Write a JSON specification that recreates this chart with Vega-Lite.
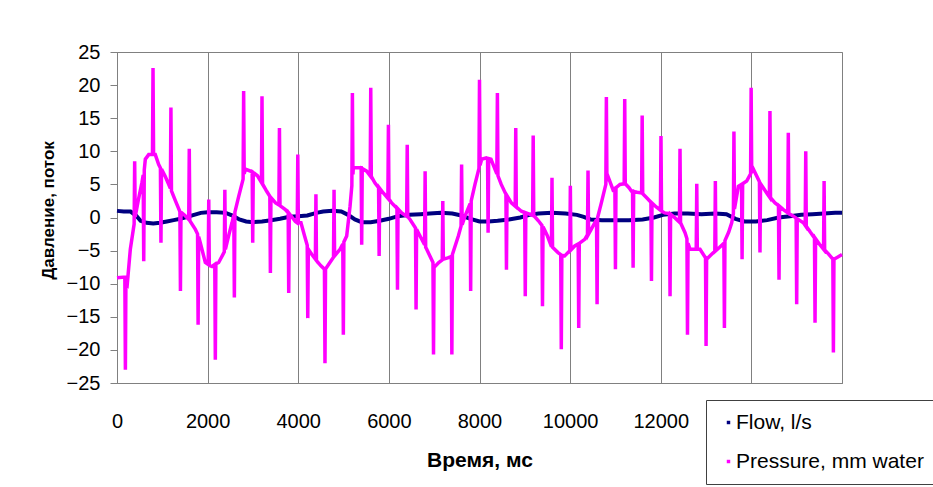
{
 "$schema": "https://vega.github.io/schema/vega-lite/v6.json",
 "width": 725,
 "height": 331,
 "autosize": {"type": "none"},
 "padding": {"left": 117, "top": 52, "right": 91, "bottom": 104},
 "background": "white",
 "config": {
  "view": {"stroke": "#808080", "strokeWidth": 1},
  "font": "Liberation Sans",
  "axis": {"labelFont": "Liberation Sans", "labelFontSize": 20, "labelColor": "black", "titleFont": "Liberation Sans", "titleFontWeight": "bold", "titleColor": "black", "domainColor": "#808080", "tickColor": "#808080", "gridColor": "#808080", "gridOpacity": 1}
 },
 "datasets": {
  "flow": [
   {"t":0,"v":1.0},{"t":150,"v":0.9},{"t":300,"v":0.9},{"t":420,"v":0.3},{"t":520,"v":-0.5},{"t":650,"v":-0.8},{"t":800,"v":-0.9},{"t":950,"v":-0.8},{"t":1100,"v":-0.6},{"t":1250,"v":-0.4},{"t":1400,"v":-0.2},{"t":1550,"v":0.1},{"t":1700,"v":0.4},{"t":1850,"v":0.7},{"t":2000,"v":0.8},{"t":2200,"v":0.8},{"t":2400,"v":0.7},{"t":2550,"v":0.3},{"t":2700,"v":-0.3},{"t":2850,"v":-0.6},{"t":3000,"v":-0.7},{"t":3200,"v":-0.6},{"t":3400,"v":-0.4},{"t":3600,"v":-0.2},{"t":3800,"v":0.1},{"t":4000,"v":0.2},{"t":4200,"v":0.3},{"t":4400,"v":0.7},{"t":4550,"v":0.9},{"t":4750,"v":1.0},{"t":4950,"v":0.9},{"t":5100,"v":0.4},{"t":5250,"v":-0.3},{"t":5400,"v":-0.7},{"t":5600,"v":-0.7},{"t":5800,"v":-0.5},{"t":6000,"v":-0.2},{"t":6200,"v":0.2},{"t":6450,"v":0.4},{"t":6700,"v":0.5},{"t":6900,"v":0.6},{"t":7150,"v":0.7},{"t":7400,"v":0.6},{"t":7600,"v":0.3},{"t":7800,"v":-0.2},{"t":8000,"v":-0.6},{"t":8200,"v":-0.6},{"t":8400,"v":-0.5},{"t":8650,"v":-0.3},{"t":8900,"v":0.0},{"t":9100,"v":0.4},{"t":9300,"v":0.6},{"t":9600,"v":0.7},{"t":9900,"v":0.6},{"t":10150,"v":0.4},{"t":10300,"v":0.1},{"t":10450,"v":-0.3},{"t":10700,"v":-0.4},{"t":11000,"v":-0.4},{"t":11300,"v":-0.4},{"t":11600,"v":-0.3},{"t":11850,"v":0.0},{"t":12050,"v":0.4},{"t":12300,"v":0.6},{"t":12600,"v":0.6},{"t":12900,"v":0.5},{"t":13200,"v":0.6},{"t":13450,"v":0.5},{"t":13650,"v":-0.2},{"t":13850,"v":-0.6},{"t":14100,"v":-0.6},{"t":14350,"v":-0.4},{"t":14600,"v":0.0},{"t":14850,"v":0.2},{"t":15100,"v":0.4},{"t":15350,"v":0.5},{"t":15600,"v":0.6},{"t":15850,"v":0.7},{"t":16000,"v":0.7}
  ],
  "pressure": [
   {"t":0,"v":-9.1},
   {"t":173,"v":-9.0},{"t":185,"v":-23},{"t":197,"v":-9.3},
   {"t":230,"v":-9.8},{"t":294,"v":-4.8},
   {"t":378,"v":-1.0},{"t":390,"v":8.5},{"t":402,"v":0.1},
   {"t":470,"v":2.6},{"t":551,"v":5.3},
   {"t":578,"v":6.4},{"t":590,"v":-6.6},{"t":602,"v":7.2},
   {"t":625,"v":8.8},{"t":700,"v":9.5},
   {"t":783,"v":9.5},{"t":795,"v":22.6},{"t":807,"v":9.5},
   {"t":845,"v":9.5},{"t":920,"v":8.0},
   {"t":958,"v":7.5},{"t":970,"v":-3.8},{"t":982,"v":7.3},
   {"t":1066,"v":6.2},
   {"t":1178,"v":4.4},{"t":1190,"v":16.6},{"t":1202,"v":4.0},
   {"t":1290,"v":2.5},
   {"t":1388,"v":0.9},{"t":1400,"v":-11.1},{"t":1412,"v":0.8},
   {"t":1500,"v":0.3},
   {"t":1583,"v":-0.3},{"t":1595,"v":10.4},{"t":1607,"v":-0.5},
   {"t":1729,"v":-1.8},
   {"t":1778,"v":-2.5},{"t":1790,"v":-16.2},{"t":1802,"v":-2.9},
   {"t":1838,"v":-3.8},{"t":1949,"v":-6.8},
   {"t":2013,"v":-7.1},{"t":2025,"v":2.7},{"t":2037,"v":-7.2},
   {"t":2097,"v":-7.4},
   {"t":2158,"v":-7.1},{"t":2170,"v":-21.5},{"t":2182,"v":-7.0},
   {"t":2244,"v":-6.8},
   {"t":2368,"v":-5.2},{"t":2380,"v":4.2},{"t":2392,"v":-4.8},
   {"t":2470,"v":-2.6},{"t":2538,"v":-0.8},
   {"t":2578,"v":0.4},{"t":2590,"v":-12.1},{"t":2602,"v":0.8},
   {"t":2686,"v":3.2},
   {"t":2783,"v":5.8},{"t":2795,"v":19.1},{"t":2807,"v":6.6},
   {"t":2833,"v":7.3},
   {"t":2983,"v":6.9},{"t":2995,"v":-3.8},{"t":3007,"v":6.8},
   {"t":3100,"v":6.3},
   {"t":3188,"v":5.3},{"t":3200,"v":18.3},{"t":3212,"v":5.1},
   {"t":3300,"v":4.0},
   {"t":3373,"v":3.2},{"t":3385,"v":-8.4},{"t":3397,"v":3.0},
   {"t":3500,"v":2.2},
   {"t":3573,"v":1.9},{"t":3585,"v":13.5},{"t":3597,"v":1.8},
   {"t":3715,"v":1.2},
   {"t":3778,"v":0.7},{"t":3790,"v":-11.4},{"t":3802,"v":0.6},
   {"t":3936,"v":-0.6},
   {"t":3978,"v":-0.8},{"t":3990,"v":9.5},{"t":4002,"v":-0.8},
   {"t":4060,"v":-0.8},{"t":4140,"v":-2.8},
   {"t":4198,"v":-4.2},{"t":4210,"v":-15.2},{"t":4222,"v":-4.8},
   {"t":4300,"v":-5.6},
   {"t":4378,"v":-6.3},{"t":4390,"v":3.5},{"t":4402,"v":-6.5},
   {"t":4500,"v":-7.3},
   {"t":4578,"v":-7.8},{"t":4590,"v":-22},{"t":4602,"v":-7.8},
   {"t":4680,"v":-7.0},
   {"t":4778,"v":-6.0},{"t":4790,"v":4.2},{"t":4802,"v":-5.8},
   {"t":4922,"v":-4.8},
   {"t":4983,"v":-4.0},{"t":4995,"v":-17.7},{"t":5007,"v":-3.7},
   {"t":5069,"v":-2.8},{"t":5143,"v":1.7},
   {"t":5183,"v":4.8},{"t":5195,"v":18.8},{"t":5207,"v":6.5},
   {"t":5215,"v":7.5},{"t":5300,"v":7.5},
   {"t":5388,"v":7.5},{"t":5400,"v":-4.1},{"t":5412,"v":7.4},
   {"t":5510,"v":7.0},
   {"t":5588,"v":6.3},{"t":5600,"v":19.6},{"t":5612,"v":6.2},
   {"t":5694,"v":5.2},
   {"t":5773,"v":4.5},{"t":5785,"v":-5.8},{"t":5797,"v":4.4},
   {"t":5877,"v":3.7},
   {"t":5978,"v":2.9},{"t":5990,"v":14.0},{"t":6002,"v":2.8},
   {"t":6062,"v":2.2},
   {"t":6178,"v":1.4},{"t":6190,"v":-10.9},{"t":6202,"v":1.3},
   {"t":6283,"v":0.7},
   {"t":6393,"v":0.2},{"t":6405,"v":11.0},{"t":6417,"v":0.1},
   {"t":6467,"v":-0.3},
   {"t":6588,"v":-1.6},{"t":6600,"v":-13.9},{"t":6612,"v":-1.8},
   {"t":6650,"v":-2.3},
   {"t":6788,"v":-4.1},{"t":6800,"v":7.0},{"t":6812,"v":-4.5},
   {"t":6835,"v":-4.8},
   {"t":6973,"v":-6.8},{"t":6985,"v":-20.7},{"t":6997,"v":-7.1},
   {"t":7018,"v":-7.4},{"t":7100,"v":-6.8},
   {"t":7178,"v":-6.4},{"t":7190,"v":2.5},{"t":7202,"v":-6.3},
   {"t":7300,"v":-6.1},
   {"t":7378,"v":-5.9},{"t":7390,"v":-20.7},{"t":7402,"v":-5.6},
   {"t":7533,"v":-2.8},
   {"t":7593,"v":-1.3},{"t":7605,"v":8.0},{"t":7617,"v":-1.1},
   {"t":7680,"v":0.2},
   {"t":7793,"v":2.1},{"t":7805,"v":-11.1},{"t":7817,"v":2.5},
   {"t":7900,"v":5.0},
   {"t":7988,"v":7.4},{"t":8000,"v":20.8},{"t":8012,"v":7.9},
   {"t":8048,"v":8.8},{"t":8150,"v":9.0},
   {"t":8178,"v":8.9},{"t":8190,"v":-2.3},{"t":8202,"v":8.9},
   {"t":8254,"v":8.8},
   {"t":8383,"v":6.6},{"t":8395,"v":18.8},{"t":8407,"v":6.3},
   {"t":8480,"v":5.0},
   {"t":8583,"v":3.5},{"t":8595,"v":-7.9},{"t":8607,"v":3.3},
   {"t":8703,"v":2.2},
   {"t":8788,"v":1.7},{"t":8800,"v":13.5},{"t":8812,"v":1.6},
   {"t":8924,"v":0.95},
   {"t":8998,"v":0.75},{"t":9010,"v":-11.9},{"t":9022,"v":0.7},
   {"t":9100,"v":0.5},
   {"t":9173,"v":0.3},{"t":9185,"v":12.4},{"t":9197,"v":0.3},
   {"t":9300,"v":-0.5},
   {"t":9378,"v":-1.2},{"t":9390,"v":-13.4},{"t":9402,"v":-1.4},
   {"t":9500,"v":-2.8},
   {"t":9588,"v":-4.4},{"t":9600,"v":6.0},{"t":9612,"v":-4.5},
   {"t":9733,"v":-5.3},
   {"t":9793,"v":-5.6},{"t":9805,"v":-19.9},{"t":9817,"v":-5.7},
   {"t":9880,"v":-5.8},
   {"t":9993,"v":-5.0},{"t":10005,"v":4.8},{"t":10017,"v":-4.9},
   {"t":10101,"v":-4.3},
   {"t":10178,"v":-4.0},{"t":10190,"v":-16.7},{"t":10202,"v":-3.9},
   {"t":10322,"v":-3.3},
   {"t":10383,"v":-2.6},{"t":10395,"v":7.1},{"t":10407,"v":-2.5},
   {"t":10480,"v":-1.6},
   {"t":10583,"v":-0.3},{"t":10595,"v":-13.1},{"t":10607,"v":0.0},
   {"t":10689,"v":2.2},
   {"t":10788,"v":5.0},{"t":10800,"v":18.2},{"t":10812,"v":5.5},
   {"t":10836,"v":6.2},{"t":10946,"v":4.2},
   {"t":10988,"v":4.4},{"t":11000,"v":-7.8},{"t":11012,"v":4.5},
   {"t":11100,"v":5.0},
   {"t":11193,"v":5.1},{"t":11205,"v":17.9},{"t":11217,"v":5.1},
   {"t":11300,"v":4.5},{"t":11351,"v":4.0},
   {"t":11378,"v":4.0},{"t":11390,"v":-7.6},{"t":11402,"v":3.9},
   {"t":11480,"v":3.8},
   {"t":11578,"v":3.7},{"t":11590,"v":15.4},{"t":11602,"v":3.6},
   {"t":11700,"v":2.9},
   {"t":11783,"v":2.3},{"t":11795,"v":-9.6},{"t":11807,"v":2.2},
   {"t":11900,"v":1.6},
   {"t":11993,"v":1.1},{"t":12005,"v":12.3},{"t":12017,"v":1.0},
   {"t":12087,"v":0.7},
   {"t":12193,"v":0.6},{"t":12205,"v":-11.9},{"t":12217,"v":0.5},
   {"t":12320,"v":-0.1},
   {"t":12413,"v":-0.7},{"t":12425,"v":10.4},{"t":12437,"v":-0.8},
   {"t":12536,"v":-2.3},
   {"t":12578,"v":-3.2},{"t":12590,"v":-17.7},{"t":12602,"v":-3.9},
   {"t":12647,"v":-4.8},
   {"t":12783,"v":-4.8},{"t":12795,"v":5.1},{"t":12807,"v":-4.8},
   {"t":12867,"v":-4.8},
   {"t":12988,"v":-6.1},{"t":13000,"v":-19.4},{"t":13012,"v":-6.3},
   {"t":13100,"v":-5.7},
   {"t":13193,"v":-5.1},{"t":13205,"v":5.5},{"t":13217,"v":-5.0},
   {"t":13300,"v":-4.5},
   {"t":13393,"v":-3.9},{"t":13405,"v":-16.7},{"t":13417,"v":-3.5},
   {"t":13500,"v":-2.2},{"t":13566,"v":-0.8},
   {"t":13603,"v":0.6},{"t":13615,"v":13.0},{"t":13627,"v":1.3},
   {"t":13713,"v":4.7},
   {"t":13783,"v":5.0},{"t":13795,"v":-6.3},{"t":13807,"v":5.1},
   {"t":13897,"v":5.5},
   {"t":13983,"v":6.6},{"t":13995,"v":19.6},{"t":14007,"v":6.9},
   {"t":14044,"v":7.3},
   {"t":14178,"v":5.4},{"t":14190,"v":-5.3},{"t":14202,"v":5.1},
   {"t":14338,"v":3.7},
   {"t":14398,"v":3.1},{"t":14410,"v":16.1},{"t":14422,"v":3.0},
   {"t":14522,"v":2.2},
   {"t":14598,"v":1.8},{"t":14610,"v":-9.4},{"t":14622,"v":1.7},
   {"t":14706,"v":1.2},
   {"t":14803,"v":0.7},{"t":14815,"v":12.8},{"t":14827,"v":0.6},
   {"t":14927,"v":0.2},
   {"t":14988,"v":-0.1},{"t":15000,"v":-13.1},{"t":15012,"v":-0.2},
   {"t":15148,"v":-0.8},
   {"t":15188,"v":-1.2},{"t":15200,"v":10.0},{"t":15212,"v":-1.3},
   {"t":15300,"v":-2.2},
   {"t":15393,"v":-3.1},{"t":15405,"v":-15.9},{"t":15417,"v":-3.2},
   {"t":15500,"v":-4.0},
   {"t":15593,"v":-4.8},{"t":15605,"v":5.5},{"t":15617,"v":-4.9},
   {"t":15700,"v":-5.5},
   {"t":15798,"v":-6.3},{"t":15810,"v":-20.4},{"t":15822,"v":-6.3},
   {"t":15900,"v":-6.0},{"t":16000,"v":-5.6}
  ]
 },
 "encoding": {
  "x": {"field": "t", "type": "quantitative",
   "scale": {"domain": [0, 16000], "nice": false, "zero": false},
   "axis": {"values": [0,2000,4000,6000,8000,10000,12000,14000,16000], "format": "d", "grid": true, "ticks": false, "labelPadding": 28, "labelFlush": false, "labelExpr": "datum.value > 12000 ? '' : datum.label", "title": "Время, мс", "titleFontSize": 21, "titleY": 77, "titleBaseline": "middle"}},
  "y": {"field": "v", "type": "quantitative",
   "scale": {"domain": [-25, 25], "nice": false},
   "axis": {"values": [-25,-20,-15,-10,-5,0,5,10,15,20,25], "grid": false, "tickSize": 7, "labelPadding": 10, "labelFlush": false, "title": "Давление, поток", "titleFontSize": 17, "titleAngle": 270, "titleX": -69, "titleY": 158, "titleAlign": "center", "titleBaseline": "middle"}}
 },
 "layer": [
  {"data": {"name": "flow"},
   "mark": {"type": "line", "strokeWidth": 4},
   "encoding": {"color": {"datum": "Flow, l/s", "type": "nominal",
     "scale": {"domain": ["Flow, l/s", "Pressure, mm water"], "range": ["#000080", "#FF00FF"]},
     "legend": {"orient": "none", "legendX": 589, "legendY": 348, "title": null, "symbolType": "square", "symbolSize": 12, "symbolStrokeWidth": 0, "labelFontSize": 21, "labelFont": "Liberation Sans", "labelColor": "black", "labelLimit": 0, "fillColor": "white", "strokeColor": "#404040", "padding": 12, "rowPadding": 17, "labelOffset": -3,
      "encode": {"symbols": {"update": {"fill": {"scale": "color", "field": "value"}, "stroke": {"value": "transparent"}}}}}}}},
  {"data": {"name": "pressure"},
   "mark": {"type": "line", "strokeWidth": 3.5},
   "encoding": {"color": {"datum": "Pressure, mm water", "type": "nominal"}}}
 ]
}
